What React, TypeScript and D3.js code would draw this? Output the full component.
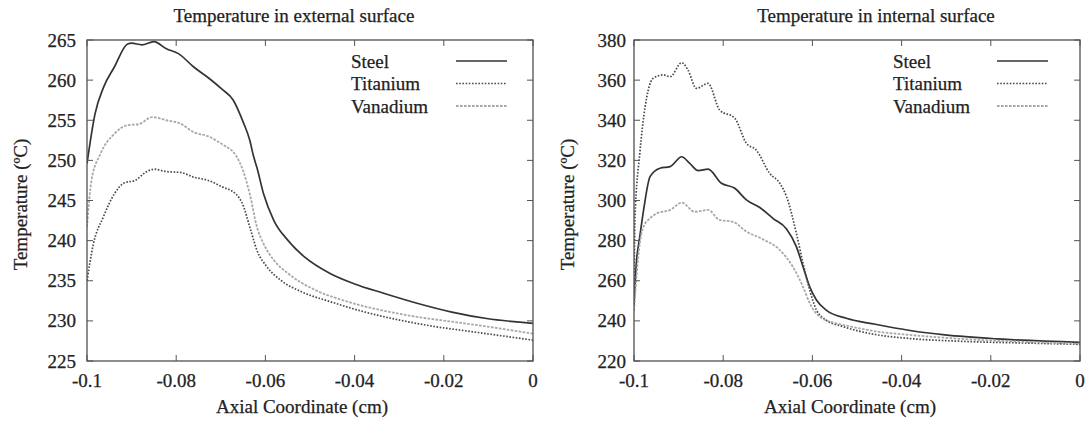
import React from "react";
import * as d3 from "d3";

// tick labels
const xTicks = [-0.1, -0.08, -0.06, -0.04, -0.02, 0];
const xTickLabels = ["-0.1", "-0.08", "-0.06", "-0.04", "-0.02", "0"];
const extYTicks = [225, 230, 235, 240, 245, 250, 255, 260, 265];
const intYTicks = [220, 240, 260, 280, 300, 320, 340, 360, 380];

const seriesNames = ["Steel", "Titanium", "Vanadium"];

// external surface
const extSteelX = [-0.1, -0.0982, -0.0963, -0.0939, -0.0909, -0.09, -0.0877, -0.085, -0.0822, -0.0795, -0.076, -0.0728, -0.0698, -0.0672, -0.065, -0.0635, -0.0627, -0.0619, -0.0604, -0.0581, -0.0549, -0.0511, -0.0455, -0.04, -0.0338, -0.026, -0.0182, -0.0104, 0];
const extSteelT = [249.6, 255.8, 259.1, 261.6, 264.5, 264.6, 264.4, 264.8, 263.9, 263.3, 261.6, 260.3, 258.9, 257.5, 254.8, 252.5, 250.6, 249.1, 245.8, 242.5, 240.0, 237.9, 235.9, 234.6, 233.5, 232.2, 231.1, 230.3, 229.7];

const extTitX = [-0.1, -0.0986, -0.0963, -0.0939, -0.0916, -0.0892, -0.0869, -0.0849, -0.0822, -0.0791, -0.076, -0.0728, -0.0697, -0.0666, -0.065, -0.0635, -0.0619, -0.0596, -0.0564, -0.0518, -0.0455, -0.0377, -0.0299, -0.0221, -0.0143, 0];
const extTitT = [235.0, 239.5, 243.0, 245.8, 247.2, 247.5, 248.5, 248.9, 248.6, 248.5, 247.9, 247.5, 246.7, 245.8, 244.4, 241.7, 238.8, 236.7, 235.0, 233.6, 232.4, 231.1, 230.1, 229.3, 228.7, 227.6];

const extVanX = [-0.1, -0.099, -0.097, -0.0939, -0.0908, -0.0885, -0.0853, -0.0822, -0.0791, -0.076, -0.0728, -0.0697, -0.0666, -0.065, -0.0635, -0.0619, -0.0604, -0.058, -0.0549, -0.0494, -0.0416, -0.0338, -0.026, -0.0182, -0.0104, 0];
const extVanT = [241.7, 247.5, 250.8, 253.3, 254.4, 254.5, 255.4, 255.0, 254.6, 253.5, 253.0, 252.0, 250.6, 248.7, 245.8, 241.7, 239.6, 237.5, 235.9, 234.0, 232.4, 231.3, 230.5, 229.9, 229.3, 228.4];

// internal surface
const intSteelX = [-0.1, -0.0995, -0.0987, -0.0978, -0.0964, -0.0942, -0.0919, -0.0893, -0.0875, -0.0856, -0.0834, -0.0804, -0.0774, -0.0748, -0.0718, -0.0688, -0.0658, -0.0636, -0.0621, -0.0606, -0.0591, -0.0569, -0.0524, -0.0459, -0.0381, -0.0303, -0.0186, 0];
const intSteelT = [248, 268, 282, 296, 311.9, 316.1, 316.9, 321.8, 318.5, 314.9, 315.6, 308.6, 306.1, 300.3, 296.5, 291, 285.8, 277, 267, 257, 250.4, 245.4, 241.3, 238.3, 235.2, 233, 231, 229.3];

const intTitX = [-0.1, -0.0998, -0.0987, -0.0975, -0.0968, -0.0957, -0.0934, -0.0919, -0.0893, -0.0879, -0.086, -0.0834, -0.0808, -0.0774, -0.0748, -0.0726, -0.0696, -0.0673, -0.0658, -0.0636, -0.0621, -0.0606, -0.0591, -0.0569, -0.0532, -0.0459, -0.0381, -0.0264, -0.013, 0];
const intTitT = [248, 290, 323.5, 346.8, 355.1, 360.9, 362.6, 361.7, 368.7, 365.0, 355.9, 358.4, 345.1, 341.0, 328.5, 325.2, 313.6, 308.6, 301.9, 283.7, 268.7, 255.4, 245.4, 240.4, 237.2, 233.2, 231.2, 229.8, 229.0, 228.3];

const intVanX = [-0.1, -0.0987, -0.0975, -0.0968, -0.0949, -0.0919, -0.0893, -0.0864, -0.0834, -0.0808, -0.0778, -0.0748, -0.0716, -0.0673, -0.0644, -0.0621, -0.0606, -0.0584, -0.0547, -0.0517, -0.0459, -0.0381, -0.0264, -0.013, 0];
const intVanT = [245, 278.7, 288.6, 290.3, 293.6, 295.3, 298.9, 294.4, 295.3, 290.3, 289.4, 284.5, 281.2, 275.3, 267, 257, 248.8, 242.1, 238.8, 237.3, 234.8, 233, 231, 229.6, 228.6];

const styles = [
  { stroke: "#333", width: 1.7, dash: "" },
  { stroke: "#4a4a4a", width: 1.7, dash: "1.6 1.6" },
  { stroke: "#a8a8a8", width: 1.8, dash: "2.6 1.4" },
];

const font = "Liberation Serif, DejaVu Serif, serif";
const textColor = "#222";

function zip(xs, ys) {
  return xs.map((x, i) => [x, ys[i]]);
}

function Label(props) {
  return (
    <text fontFamily={font} fontSize={19} fill={textColor} stroke={textColor} strokeWidth={0.25} {...props} />
  );
}

function Panel({ id, left, right, top, bottom, yDomain, yTicks, title, titleX, labelX, yLabelX, yTickRight, legendX, legendLineX, series }) {
  const x = d3.scaleLinear().domain([-0.1, 0]).range([left, right]);
  const y = d3.scaleLinear().domain(yDomain).range([bottom, top]);
  const line = d3
    .line()
    .x((d) => x(d[0]))
    .y((d) => y(d[1]))
    .curve(d3.curveMonotoneX);
  const tick = 6;
  const legendY = [61, 83.5, 106];

  return (
    <g>
      <defs>
        <clipPath id={id}>
          <rect x={left} y={top - 2} width={right - left} height={bottom - top + 2} />
        </clipPath>
      </defs>
      <Label x={titleX} y={22} textAnchor="middle">
        {title}
      </Label>
      {series.map((s, i) => (
        <path
          key={i}
          d={line(s)}
          fill="none"
          stroke={styles[i].stroke}
          strokeWidth={styles[i].width}
          strokeDasharray={styles[i].dash}
          clipPath={`url(#${id})`}
        />
      ))}
      {xTicks.map((t, i) => (
        <g key={"x" + i}>
          <line x1={x(t)} x2={x(t)} y1={bottom} y2={bottom - tick} stroke="#555" />
          <line x1={x(t)} x2={x(t)} y1={top} y2={top + tick} stroke="#555" />
          <Label x={x(t)} y={387} textAnchor="middle">
            {xTickLabels[i]}
          </Label>
        </g>
      ))}
      {yTicks.map((t) => (
        <g key={"y" + t}>
          <line x1={left} x2={left + tick} y1={y(t)} y2={y(t)} stroke="#555" />
          <line x1={right} x2={right - tick} y1={y(t)} y2={y(t)} stroke="#555" />
          <Label x={yTickRight} y={y(t) + 6.5} textAnchor="end">
            {t}
          </Label>
        </g>
      ))}
      <rect x={left} y={top} width={right - left} height={bottom - top} fill="none" stroke="#505050" strokeWidth={1.3} />
      <Label x={labelX} y={413} textAnchor="middle">
        Axial Coordinate (cm)
      </Label>
      <Label
        transform={`translate(${yLabelX},${(top + bottom) / 2 + 4}) rotate(-90)`}
        textAnchor="middle"
        dy="0.35em"
      >
        Temperature (ºC)
      </Label>
      {seriesNames.map((name, i) => (
        <g key={name}>
          <Label x={legendX} y={legendY[i] + 6.5}>
            {name}
          </Label>
          <line
            x1={legendLineX[0]}
            x2={legendLineX[1]}
            y1={legendY[i]}
            y2={legendY[i]}
            stroke={styles[i].stroke}
            strokeWidth={styles[i].width}
            strokeDasharray={styles[i].dash}
          />
        </g>
      ))}
    </g>
  );
}

export default function App() {
  return (
    <svg width={1089} height={425} style={{ position: "absolute", left: 0, top: 0, background: "#fff" }}>
      <Panel
        id="clipExt"
        left={87}
        right={533}
        top={40}
        bottom={361}
        yDomain={[225, 265]}
        yTicks={extYTicks}
        title="Temperature in external surface"
        titleX={294}
        labelX={302}
        yLabelX={20}
        yTickRight={76}
        legendX={351}
        legendLineX={[456, 507]}
        series={[zip(extSteelX, extSteelT), zip(extTitX, extTitT), zip(extVanX, extVanT)]}
      />
      <Panel
        id="clipInt"
        left={634}
        right={1080}
        top={40}
        bottom={361}
        yDomain={[220, 380]}
        yTicks={intYTicks}
        title="Temperature in internal surface"
        titleX={876}
        labelX={850}
        yLabelX={567}
        yTickRight={626}
        legendX={893}
        legendLineX={[997, 1048]}
        series={[zip(intSteelX, intSteelT), zip(intTitX, intTitT), zip(intVanX, intVanT)]}
      />
    </svg>
  );
}
